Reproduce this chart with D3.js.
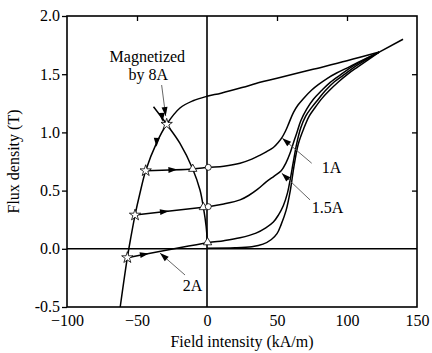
<!DOCTYPE html>
<html><head><meta charset="utf-8">
<script src="https://cdn.jsdelivr.net/npm/d3@7"></script>
<style>
body{margin:0;background:#fff;}
</style></head>
<body>
<svg id="c" width="432" height="353"></svg>
<script>
// ---- data (H in kA/m, B in T) ----
const xTicks = [-100, -50, 0, 50, 100, 150];
const yTicks = [-0.5, 0.0, 0.5, 1.0, 1.5, 2.0];
const majorCurve = [[123,1.69],[100,1.615],[75,1.54],[50,1.465],[37.9,1.43],[25,1.385],[10,1.337],[0,1.31],[-10,1.272],[-19.3,1.21],[-28.8,1.07],[-36,0.91],[-43.8,0.671],[-47.9,0.477],[-51.4,0.29],[-54.3,0.104],[-56.9,-0.076],[-62,-0.5]];
const tipExtension = [[123,1.69],[140,1.80]];
const innerCurve = [[-38.2,1.22],[-28.8,1.07],[-19.3,0.906],[-10.2,0.686],[-5,0.505],[-2.6,0.357],[-0.6,0.19],[0.3,0.05]];
const curve1A = [[-43.8,0.671],[-10.2,0.686],[0.9,0.70],[12,0.71],[23.6,0.735],[32,0.77],[38,0.805],[42.6,0.835],[47.4,0.87],[51,0.915],[53.5,0.955],[56,1.01],[58.5,1.08],[61.7,1.17],[65,1.235],[68.8,1.29],[74.8,1.364],[79.5,1.41],[86,1.465],[92.6,1.51],[102,1.565],[110,1.615],[123,1.69]];
const curve15A = [[-51.4,0.29],[-2.6,0.357],[0.9,0.362],[12,0.385],[23.6,0.42],[30,0.46],[36,0.51],[42.3,0.575],[48,0.625],[53,0.67],[56.5,0.74],[59.3,0.82],[62,0.92],[64,0.99],[67,1.1],[71.2,1.2],[76,1.285],[81.9,1.36],[88,1.43],[96,1.5],[105,1.575],[123,1.69]];
const curve2A = [[-56.9,-0.076],[0.5,0.052],[12,0.07],[23.6,0.095],[35,0.135],[42,0.18],[47.4,0.23],[51,0.29],[54.5,0.37],[57.5,0.48],[59.5,0.6],[61.5,0.735],[64,0.9],[67,1.04],[70.5,1.14],[74.8,1.215],[79.5,1.285],[84.3,1.355],[91,1.435],[99,1.505],[107,1.575],[123,1.69]];
const initialCurve = [[0,0.005],[20,0.008],[32,0.018],[40,0.04],[46,0.08],[50,0.13],[53,0.21],[56.5,0.33],[59.5,0.5],[62,0.7],[65.2,0.9],[69,1.03],[73,1.14],[77,1.21],[82,1.29],[87,1.355],[94,1.435],[101,1.505],[108,1.565],[123,1.69]];
const starPts = [[-28.8,1.07],[-43.8,0.671],[-51.4,0.29],[-56.9,-0.076]];
const trianglePts = [[-10.2,0.686],[-2.6,0.357],[0.4,0.055]];
const circlePts = [[0.9,0.70],[0.9,0.362]];
// direction arrows on curves: [x, y, dx, dy] (direction in data units)
const flowArrows = [[-36,0.91,-3,-1],[-32,1.125,1,-0.16],[-24,0.679,1,0.0005],[-30,0.32,1,0.0014],[-44.3,-0.047,1,0.0022]];
// annotation leader lines: [fromX, fromY, toX, toY]
const leaders = [[74.8,0.735,53.8,0.95],[73.6,0.42,53.4,0.65],[-15.7,-0.225,-33.6,-0.037],[-32.4,1.407,-29.5,1.14]];
const labels = [{t:"1A",x:81.9,y:0.649,a:"start"},{t:"1.5A",x:74.8,y:0.31,a:"start"},{t:"2A",x:-17.4,y:-0.36,a:"start"},{t:"Magnetized",x:-42.6,y:1.605,a:"middle"},{t:"by 8A",x:-42.0,y:1.45,a:"middle"}];

// ---- font: first installed serif, else a sans fallback ----
function pickFont(cands, fallback){
  const ctx = document.createElement("canvas").getContext("2d");
  const s = "Magnetized by 8A 0.5 (kA/m)";
  for (const f of cands){
    ctx.font = "16px monospace"; const w0 = ctx.measureText(s).width;
    ctx.font = `16px "${f}", monospace`; const w1 = ctx.measureText(s).width;
    if (Math.abs(w1-w0) > 0.5) return `"${f}", serif`;
  }
  return fallback;
}
const FONT = pickFont(["Liberation Serif","Times New Roman","Tinos","DejaVu Serif","Noto Serif","FreeSerif","Nimbus Roman"], "'Liberation Sans', Arial, sans-serif");
const FS = 16;

// ---- layout ----
const svg = d3.select("#c");
const m = {l:67, r:15, t:16, b:46};
const W = 432, H = 353;
const x = d3.scaleLinear().domain([-100,150]).range([m.l, W-m.r]);
const y = d3.scaleLinear().domain([-0.5,2.0]).range([H-m.b, m.t]);

const g = svg.append("g");
// frame
g.append("rect").attr("x",x(-100)).attr("y",y(2)).attr("width",x(150)-x(-100)).attr("height",y(-0.5)-y(2))
  .attr("fill","none").attr("stroke","#000").attr("stroke-width",1.6);
// zero lines
g.append("line").attr("x1",x(0)).attr("x2",x(0)).attr("y1",y(-0.5)).attr("y2",y(2)).attr("stroke","#000").attr("stroke-width",1.6);
g.append("line").attr("x1",x(-100)).attr("x2",x(150)).attr("y1",y(0)).attr("y2",y(0)).attr("stroke","#000").attr("stroke-width",1.6);

// axes
const fmtY = d => d.toFixed(1);
const axLeft = g.append("g").attr("transform",`translate(${x(-100)},0)`).call(d3.axisLeft(y).tickValues(yTicks).tickFormat(fmtY).tickSize(5).tickPadding(2));
const axBottom = g.append("g").attr("transform",`translate(0,${y(-0.5)})`).call(d3.axisBottom(x).tickValues(xTicks).tickSize(0).tickPadding(8));
const axTop = g.append("g").attr("transform",`translate(0,${y(2)})`).call(d3.axisTop(x).tickValues([-50,50,100]).tickFormat("").tickSize(-5));
const axRight = g.append("g").attr("transform",`translate(${x(150)},0)`).call(d3.axisRight(y).tickValues([0.5,1.0,1.5]).tickFormat("").tickSize(-5));
[axLeft,axBottom,axTop,axRight].forEach(a=>{a.select(".domain").remove(); a.selectAll("line").attr("stroke","#000").attr("stroke-width",1.3);});
[axLeft,axBottom].forEach(a=>a.selectAll("text").attr("font-size",FS));
axLeft.selectAll("text").attr("dy","0.3em");

// axis titles
g.append("text").attr("x",(x(-100)+x(150))/2).attr("y",347).attr("text-anchor","middle").attr("font-size",FS).text("Field intensity (kA/m)");
g.append("text").attr("transform",`translate(19,${(y(-0.5)+y(2))/2}) rotate(-90)`).attr("text-anchor","middle").attr("font-size",FS).text("Flux density (T)");

// curves
const smooth = d3.line().x(d=>x(d[0])).y(d=>y(d[1])).curve(d3.curveCatmullRom.alpha(0.5));
const straight = d3.line().x(d=>x(d[0])).y(d=>y(d[1]));
[majorCurve, innerCurve, curve1A, curve15A, curve2A, initialCurve].forEach(c=>{
  g.append("path").attr("d",smooth(c)).attr("fill","none").attr("stroke","#000").attr("stroke-width",1.5);
});
g.append("path").attr("d",straight(tipExtension)).attr("fill","none").attr("stroke","#000").attr("stroke-width",1.5);

// arrowhead helper (pixel space)
function arrowHead(px,py,ang,len,wid){
  const c=Math.cos(ang), s=Math.sin(ang);
  const bx=px-c*len, by=py-s*len;
  const p1=[bx - s*wid/2, by + c*wid/2], p2=[bx + s*wid/2, by - c*wid/2];
  g.append("path").attr("d",`M${px},${py}L${p1[0]},${p1[1]}L${p2[0]},${p2[1]}Z`).attr("fill","#000");
}
flowArrows.forEach(a=>{
  const px=x(a[0]), py=y(a[1]);
  const ang=Math.atan2(y(a[1]+a[3])-y(a[1]), x(a[0]+a[2])-x(a[0]));
  arrowHead(px+Math.cos(ang)*4, py+Math.sin(ang)*4, ang, 9, 6);
});
// leaders
leaders.forEach(l=>{
  const x1=x(l[0]),y1=y(l[1]),x2=x(l[2]),y2=y(l[3]);
  g.append("line").attr("x1",x1).attr("y1",y1).attr("x2",x2).attr("y2",y2).attr("stroke","#555").attr("stroke-width",0.9);
  arrowHead(x2,y2,Math.atan2(y2-y1,x2-x1),9,6);
});

// markers
const star = d3.symbol().type(d3.symbolStar).size(40);
const tri = d3.symbol().type(d3.symbolTriangle).size(30);
starPts.forEach(p=>g.append("path").attr("d",star()).attr("transform",`translate(${x(p[0])},${y(p[1])})`).attr("fill","#fff").attr("stroke","#000").attr("stroke-width",0.8));
trianglePts.forEach(p=>g.append("path").attr("d",tri()).attr("transform",`translate(${x(p[0])},${y(p[1])})`).attr("fill","#fff").attr("stroke","#000").attr("stroke-width",0.8));
circlePts.forEach(p=>g.append("circle").attr("cx",x(p[0])).attr("cy",y(p[1])).attr("r",3).attr("fill","#fff").attr("stroke","#000").attr("stroke-width",0.8));

// labels
labels.forEach(l=>g.append("text").attr("x",x(l.x)).attr("y",y(l.y)).attr("text-anchor",l.a).attr("font-size",FS).text(l.t));

svg.selectAll("text").attr("font-family",FONT).style("font-family",FONT).attr("fill","#000");
</script>
</body></html>
